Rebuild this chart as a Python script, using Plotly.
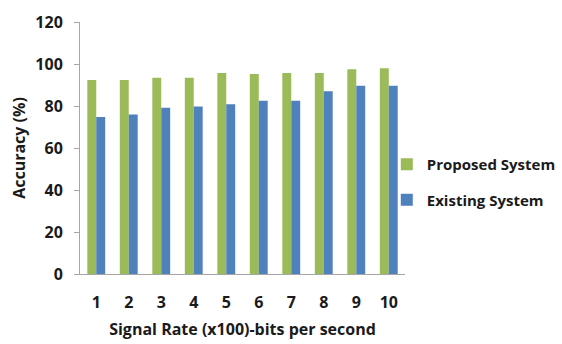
import plotly.graph_objects as go

categories = ["1", "2", "3", "4", "5", "6", "7", "8", "9", "10"]
proposed = [92.4, 92.4, 93.5, 93.5, 95.7, 95.2, 95.7, 95.7, 97.5, 98.0]
existing = [74.8, 75.9, 79.2, 79.8, 80.8, 82.5, 82.5, 87.0, 89.7, 89.7]

font_family = "Open Sans"
text_color = "#1a1a1a"
bold_font = dict(family=font_family, size=16, color=text_color, weight="bold")
legend_font = dict(family=font_family, size=15, color=text_color, weight="bold")

fig = go.Figure()
fig.add_trace(go.Bar(x=categories, y=proposed, name="Proposed System",
                     legendgroup="p",
                     marker=dict(color="#9BBB59", line=dict(width=0))))
fig.add_trace(go.Bar(x=categories, y=existing, name="Existing System",
                     legendgroup="e",
                     marker=dict(color="#4F81BD", line=dict(width=0))))

fig.update_layout(
    width=562, height=344,
    margin=dict(l=80, r=10, t=22, b=70, autoexpand=False),
    paper_bgcolor="white", plot_bgcolor="white",
    barmode="group", bargap=0.45, bargroupgap=0,
    font=bold_font,
    showlegend=True,
    legend=dict(x=0.65, y=0.365, xanchor="left", yanchor="middle",
                font=legend_font, itemwidth=30, tracegroupgap=13,
                bgcolor="rgba(0,0,0,0)"),
)
fig.update_xaxes(
    type="category", domain=[0, 0.6886],
    showline=True, linecolor="#a6a6a6", linewidth=1,
    ticks="outside", ticklen=14, tickcolor="rgba(0,0,0,0)", showgrid=False,
    tickfont=bold_font,
    title=dict(text="Signal Rate (x100)-bits per second", font=bold_font, standoff=11),
)
fig.update_yaxes(
    range=[0, 120], dtick=20,
    showline=True, linecolor="#a6a6a6", linewidth=1,
    ticks="outside", ticklen=5, tickcolor="#a6a6a6", ticklabelstandoff=8,
    showgrid=False, zeroline=False,
    tickfont=bold_font,
    title=dict(text="Accuracy (%)", font=bold_font, standoff=5),
)

fig.write_html("out.html")
